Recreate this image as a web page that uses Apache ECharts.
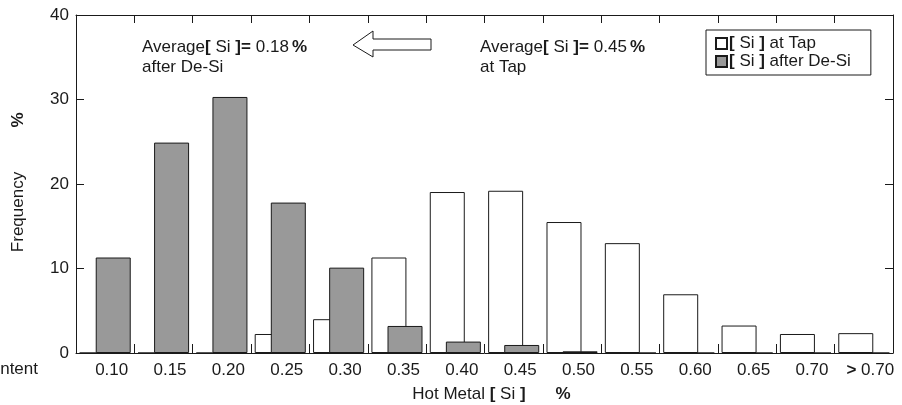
<!DOCTYPE html>
<html>
<head>
<meta charset="utf-8">
<script src="https://cdn.jsdelivr.net/npm/echarts@6/dist/echarts.min.js"></script>
<style>
  html, body { margin: 0; padding: 0; background: #fff; }
  #chart { width: 902px; height: 405px; }
</style>
</head>
<body>
<div id="chart"></div>
<script>
// Si content classes
var categories = ['0.10', '0.15', '0.20', '0.25', '0.30', '0.35', '0.40', '0.45', '0.50', '0.55', '0.60', '0.65', '0.70', '> 0.70'];
// frequency %, [Si] at tap
var atTap = [0, 0, 0, 2.25, 4.0, 11.3, 19.05, 19.2, 15.5, 13.0, 6.95, 3.25, 2.25, 2.35];
// frequency %, [Si] after De-Si
var afterDeSi = [11.3, 24.9, 30.3, 17.8, 10.1, 3.2, 1.35, 0.95, 0.2, 0, 0, 0, 0, 0];
var yTicks = [0, 10, 20, 30, 40];

var font = 'Liberation Sans';
var ink = '#1a1a1a';
var fs = 17;

// plain / bold rich tokens
function rich(size) {
    return {
        n: { fontFamily: font, fontSize: size, color: ink, fill: ink },
        b: { fontFamily: font, fontSize: size, fontWeight: 'bold', color: ink, fill: ink },
        p: { fontFamily: font, fontSize: size, fontWeight: 'bold', color: ink, fill: ink, padding: [0, 0, 0, 3] },
        v: { fontFamily: font, fontSize: size, color: ink, fill: ink, padding: [0, 0, 0, 5] },
        g: { fontFamily: font, fontSize: size, fontWeight: 'bold', color: ink, fill: ink, padding: [0, 0, 0, 30] }
    };
}

var chart = echarts.init(document.getElementById('chart'));

var option = {
    animation: false,
    textStyle: { fontFamily: font, fontSize: fs, color: ink },
    grid: { left: 76, right: 9, top: 15, bottom: 52, containLabel: false, outerBoundsMode: 'none' },
    legend: {
        orient: 'vertical',
        left: 706,
        top: 30,
        padding: [5, 20, 5, 9],
        itemGap: 1,
        itemWidth: 11,
        itemHeight: 11,
        borderColor: ink,
        borderWidth: 1,
        borderRadius: 0,
        icon: 'rect',
        data: ['at Tap', 'after De-Si'],
        formatter: function (name) {
            return '{b|[}{n| Si }{b|]}{n| ' + name + '}';
        },
        textStyle: {
            fontFamily: font, fontSize: fs, color: ink, padding: [0, 0, 0, -3],
            rich: rich(fs)
        }
    },
    xAxis: [{
        type: 'category',
        data: categories,
        position: 'bottom',
        axisLine: { onZero: false, lineStyle: { color: ink, width: 1 } },
        axisTick: { show: true, interval: 0, inside: true, length: 9, lineStyle: { color: ink, width: 1 } },
        axisLabel: {
            interval: 0,
            fontFamily: font, fontSize: fs, color: ink, margin: 9,
            padding: [0, 0, 0, 13],
            formatter: function (v) {
                return v.charAt(0) === '>' ? '{b|>}{n|' + v.slice(1) + '}' : '{n|' + v + '}';
            },
            rich: rich(fs)
        },
        name: '{n|Hot Metal }{b|[}{n| Si }{b|]}{g|%}',
        nameLocation: 'middle',
        nameGap: 33,
        nameTextStyle: { padding: [0, 0, 0, 14], rich: rich(fs) }
    }, {
        type: 'category',
        data: categories,
        position: 'top',
        axisLine: { onZero: false, lineStyle: { color: ink, width: 1 } },
        axisTick: { show: true, interval: 0, inside: true, length: 8, lineStyle: { color: ink, width: 1 } },
        axisLabel: { show: false }
    }],
    yAxis: [{
        type: 'value',
        min: 0, max: 40, interval: 10,
        position: 'left',
        splitLine: { show: false },
        axisLine: { show: true, onZero: false, lineStyle: { color: ink } },
        axisTick: { show: true, inside: true, length: 8, lineStyle: { color: ink } },
        axisLabel: { fontFamily: font, fontSize: fs, color: ink, margin: 7, customValues: yTicks }
    }, {
        type: 'value',
        min: 0, max: 40, interval: 10,
        position: 'right',
        splitLine: { show: false },
        axisLine: { show: true, onZero: false, lineStyle: { color: ink } },
        axisTick: { show: true, inside: true, length: 8, lineStyle: { color: ink } },
        axisLabel: { show: false }
    }],
    series: [{
        name: 'at Tap',
        type: 'bar',
        data: atTap,
        barWidth: 35,
        barGap: '-54%',
        itemStyle: { color: '#ffffff', borderColor: ink, borderWidth: 1 }
    }, {
        name: 'after De-Si',
        type: 'bar',
        data: afterDeSi,
        barWidth: 35,
        barGap: '-54%',
        itemStyle: { color: '#999999', borderColor: ink, borderWidth: 1 }
    }],
    graphic: [{
        type: 'text', x: 142, y: 37,
        style: {
            text: '{n|Average}{b|[}{n| Si }{b|]=}{v|0.18}{p|%}\n{n|after De-Si}',
            lineHeight: 20,
            rich: rich(fs)
        }
    }, {
        type: 'text', x: 480, y: 37,
        style: {
            text: '{n|Average}{b|[}{n| Si }{b|]=}{v|0.45}{p|%}\n{n|at Tap}',
            lineHeight: 20,
            rich: rich(fs)
        }
    }, {
        type: 'polygon',
        shape: { points: [[353, 45], [373, 31], [373, 39], [431, 39], [431, 50], [373, 50], [373, 57]] },
        style: { fill: '#fff', stroke: ink, lineWidth: 1 }
    }, {
        type: 'text', x: 18, y: 212, rotation: Math.PI / 2,
        style: { text: 'Frequency', fontFamily: font, fontSize: fs, fill: ink, align: 'center', verticalAlign: 'middle' }
    }, {
        type: 'text', x: 18, y: 120, rotation: Math.PI / 2,
        style: { text: '%', fontFamily: font, fontSize: fs, fontWeight: 'bold', fill: ink, align: 'center', verticalAlign: 'middle' }
    }, {
        type: 'text', x: 38, y: 369,
        style: { text: 'Content', fontFamily: font, fontSize: fs, fill: ink, align: 'right', verticalAlign: 'middle' }
    }]
};

chart.setOption(option);
</script>
</body>
</html>
